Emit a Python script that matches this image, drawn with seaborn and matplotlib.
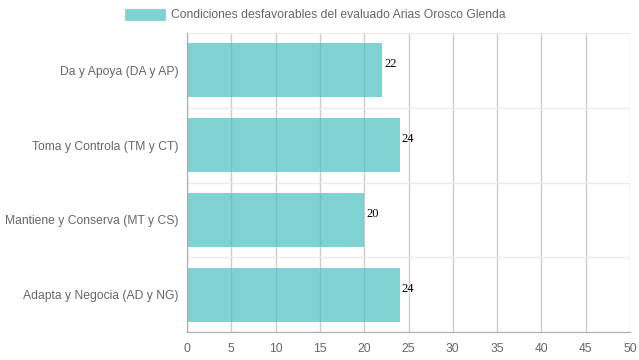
import matplotlib
matplotlib.use("Agg")
import matplotlib.pyplot as plt
import seaborn as sns
import pandas as pd
from matplotlib.patches import Patch

categorias = ['Da y Apoya (DA y AP)', 'Toma y Controla (TM y CT)',
              'Mantiene y Conserva (MT y CS)', 'Adapta y Negocia (AD y NG)']
valores = [22, 24, 20, 24]
serie = 'Condiciones desfavorables del evaluado Arias Orosco Glenda'
x_ticks = list(range(0, 55, 5))

df = pd.DataFrame({'categoria': categorias, 'valor': valores})

sns.set_style('white')
plt.rcParams['font.family'] = ['Liberation Sans', 'DejaVu Sans']

bar_color = (75 / 255, 192 / 255, 192 / 255, 0.7)
txt_color = '#666666'
fs = 8.7

fig = plt.figure(figsize=(6.39, 3.6), dpi=100)
ax = fig.add_axes([187 / 639, 1 - 332 / 360, (630 - 187) / 639, (332 - 33) / 360])
ax.set_axisbelow(True)

sns.barplot(data=df, x='valor', y='categoria', orient='h', color=bar_color,
            saturation=1, width=0.72, ax=ax)
for p in ax.patches:
    p.set_facecolor(bar_color)
    p.set_edgecolor('none')

for i, v in enumerate(valores):
    ax.text(v + 0.25, i - 0.08, str(v), va='center', ha='left', fontsize=9,
            family='Liberation Serif', color='black')

ax.set_xlim(0, 50)
ax.set_ylim(3.5, -0.5)
ax.set_xticks(x_ticks)
ax.set_xticklabels([str(t) for t in x_ticks])
ax.set_yticks(range(len(categorias)))
ax.set_yticklabels(categorias)
ax.set_yticks([-0.5, 0.5, 1.5, 2.5, 3.5], minor=True)
ax.set_xlabel('')
ax.set_ylabel('')

ax.grid(True, axis='x', which='major', color='#cccccc', linewidth=1)
ax.grid(True, axis='y', which='minor', color='#ebebeb', linewidth=1)
ax.tick_params(axis='x', which='major', length=6, color='#cccccc', labelcolor=txt_color,
               labelsize=fs, pad=2)
ax.tick_params(axis='y', which='major', length=0, labelcolor=txt_color, labelsize=fs, pad=6)
ax.tick_params(axis='y', which='minor', length=8, color='#ebebeb')

for s in ['top', 'right']:
    ax.spines[s].set_visible(False)
ax.spines['left'].set_color('#aaaaaa')
ax.spines['bottom'].set_color('#aaaaaa')

fig.legend(handles=[Patch(facecolor=bar_color, edgecolor=(75 / 255, 192 / 255, 192 / 255, 0.4))],
           labels=[serie], loc='center', bbox_to_anchor=(0.494, 1 - 15 / 360),
           frameon=False, fontsize=fs, labelcolor=txt_color, handlelength=3.3,
           handleheight=1.0, handletextpad=0.5)

fig.savefig('out.png', dpi=100)
